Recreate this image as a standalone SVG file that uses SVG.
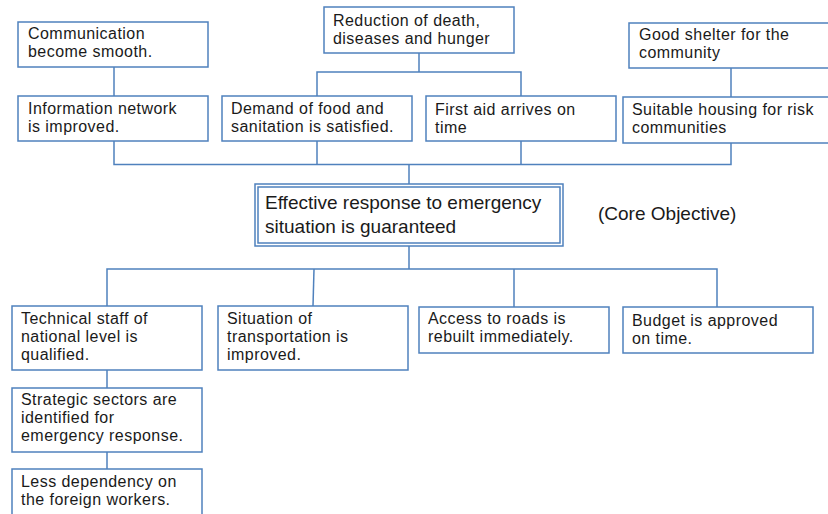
<svg xmlns="http://www.w3.org/2000/svg" width="828" height="514" viewBox="0 0 828 514">
<style>
.box{fill:#fff;stroke:#4f81bd;stroke-width:1.5}
.ln{fill:none;stroke:#4f81bd;stroke-width:1.5}
text{font-family:"Liberation Sans",Arial,sans-serif;font-size:16px;letter-spacing:0.45px;fill:#1a1a1a}
.big{font-size:19px;letter-spacing:0}
</style>
<rect width="828" height="514" fill="#fff"/>
<g id="connectors" class="ln">
<path d="M114,67V96"/>
<path d="M114,141V164.5H731V143"/>
<path d="M317,141V164.5"/>
<path d="M521,141V164.5"/>
<path d="M419,53V72"/>
<path d="M317,96V72H521V96"/>
<path d="M731,68V97"/>
<path d="M409,164.5V184"/>
<path d="M409,246V269"/>
<path d="M107,306V269H717V307"/>
<path d="M314,269L313,306"/>
<path d="M514,269V307"/>
<path d="M107,370V388"/>
<path d="M107,452V469"/>
</g>
<g id="n1"><rect class="box" x="18" y="22" width="190" height="45"/><text x="28" y="39">Communication</text><text x="28" y="57">become smooth.</text></g>
<g id="n2"><rect class="box" x="18" y="96" width="190" height="45"/><text x="28" y="114">Information network</text><text x="28" y="132">is improved.</text></g>
<g id="n3"><rect class="box" x="324" y="7" width="190" height="46"/><text x="333" y="26">Reduction of death,</text><text x="333" y="44">diseases and hunger</text></g>
<g id="n4"><rect class="box" x="222" y="96" width="190" height="45"/><text x="231" y="114">Demand of food and</text><text x="231" y="132">sanitation is satisfied.</text></g>
<g id="n5"><rect class="box" x="426" y="96" width="190" height="45"/><text x="435" y="115">First aid arrives on</text><text x="435" y="133">time</text></g>
<g id="n6"><rect class="box" x="629" y="23" width="210" height="45"/><text x="639" y="40">Good shelter for the</text><text x="639" y="58">community</text></g>
<g id="n7"><rect class="box" x="623" y="97" width="216" height="46"/><text x="632" y="115">Suitable housing for risk</text><text x="632" y="133">communities</text></g>
<g id="core"><rect class="box" x="255" y="184" width="308" height="62"/><rect class="box" x="258" y="187" width="302" height="56"/><text class="big" x="265" y="209">Effective response to emergency</text><text class="big" x="265" y="233">situation is guaranteed</text></g>
<g id="core-label"><text class="big" x="598" y="220">(Core Objective)</text></g>
<g id="n8"><rect class="box" x="12" y="306" width="190" height="64"/><text x="21" y="324">Technical staff of</text><text x="21" y="342">national level is</text><text x="21" y="360">qualified.</text></g>
<g id="n9"><rect class="box" x="218" y="306" width="190" height="64"/><text x="227" y="324">Situation of</text><text x="227" y="342">transportation is</text><text x="227" y="360">improved.</text></g>
<g id="n10"><rect class="box" x="419" y="307" width="190" height="46"/><text x="428" y="324">Access to roads is</text><text x="428" y="342">rebuilt immediately.</text></g>
<g id="n11"><rect class="box" x="623" y="307" width="190" height="46"/><text x="632" y="326">Budget is approved</text><text x="632" y="344">on time.</text></g>
<g id="n12"><rect class="box" x="12" y="388" width="190" height="64"/><text x="21" y="405">Strategic sectors are</text><text x="21" y="423">identified for</text><text x="21" y="441">emergency response.</text></g>
<g id="n13"><rect class="box" x="12" y="469" width="190" height="60"/><text x="21" y="487">Less dependency on</text><text x="21" y="505">the foreign workers.</text></g>
</svg>
